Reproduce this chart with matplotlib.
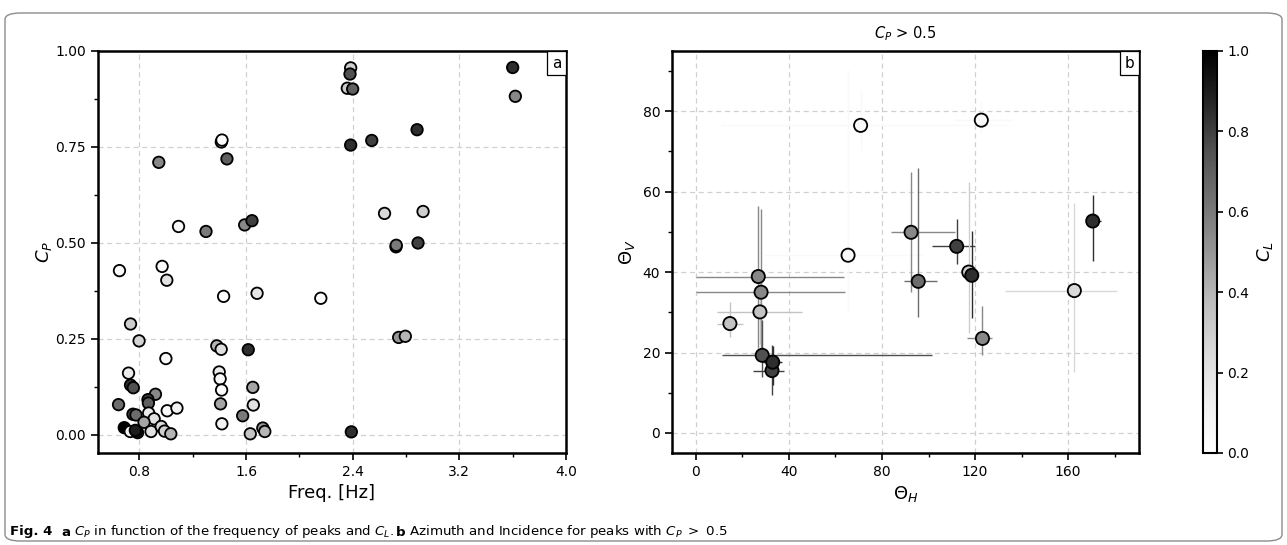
import matplotlib
matplotlib.use('Agg')
import matplotlib.pyplot as plt
import numpy as np
from matplotlib.ticker import MultipleLocator
from matplotlib.patches import FancyBboxPatch
from matplotlib.offsetbox import AnchoredText
from matplotlib.transforms import IdentityTransform

# --- panel a: peak frequency, C_P and C_L ---
freq = [0.651, 0.946, 1.094, 1.300, 1.415, 1.420, 1.457, 1.590, 1.645, 0.971,
        1.006, 1.432, 1.683, 0.734, 0.798, 0.999, 1.381, 1.414, 1.617, 0.719,
        0.734, 0.755, 0.644, 0.921, 0.865, 0.868, 0.752, 0.775, 0.870, 0.911,
        0.835, 1.009, 1.082, 0.687, 0.732, 0.787, 0.770, 0.888, 0.964, 0.989,
        1.036, 1.399, 1.406, 1.417, 1.409, 1.419, 1.651, 1.655, 1.575, 1.632,
        1.726, 1.741, 2.385, 2.380, 2.360, 2.400, 2.385, 2.543, 2.883, 3.600,
        3.620, 2.639, 2.928, 2.725, 2.727, 2.890, 2.161, 2.745, 2.795, 2.390]
cp = [0.428, 0.710, 0.543, 0.530, 0.763, 0.768, 0.719, 0.547, 0.558, 0.439,
      0.403, 0.361, 0.369, 0.289, 0.245, 0.199, 0.232, 0.223, 0.222, 0.161,
      0.130, 0.123, 0.079, 0.106, 0.092, 0.083, 0.054, 0.052, 0.057, 0.042,
      0.033, 0.063, 0.070, 0.019, 0.009, 0.006, 0.012, 0.009, 0.022, 0.010,
      0.003, 0.164, 0.146, 0.117, 0.081, 0.029, 0.124, 0.078, 0.050, 0.003,
      0.018, 0.009, 0.956, 0.940, 0.903, 0.901, 0.755, 0.767, 0.795, 0.957,
      0.882, 0.577, 0.582, 0.490, 0.494, 0.500, 0.356, 0.254, 0.257, 0.008]
cl = [0.05, 0.55, 0.05, 0.60, 0.15, 0.03, 0.70, 0.55, 0.80, 0.05,
      0.20, 0.02, 0.18, 0.30, 0.28, 0.05, 0.40, 0.22, 0.85, 0.15,
      0.85, 0.75, 0.65, 0.55, 0.80, 0.70, 0.80, 0.65, 0.15, 0.20,
      0.45, 0.05, 0.10, 1.00, 0.10, 0.95, 0.90, 0.20, 0.25, 0.30,
      0.40, 0.15, 0.05, 0.02, 0.45, 0.10, 0.45, 0.20, 0.60, 0.35,
      0.50, 0.40, 0.30, 0.75, 0.30, 0.70, 0.85, 0.80, 0.85, 0.85,
      0.55, 0.25, 0.30, 0.85, 0.60, 0.80, 0.03, 0.50, 0.40, 0.85]

# --- panel b: azimuth / incidence for peaks with C_P > 0.5 ---
theta_h = [14.6, 26.8, 28.0, 27.5, 28.5, 32.7, 33.0, 65.4, 70.8,
           122.7, 92.5, 95.6, 112.1, 117.3, 118.6, 123.2, 162.7, 170.6]
theta_v = [27.2, 38.9, 35.0, 30.1, 19.3, 15.5, 17.6, 44.2, 76.5,
           77.8, 49.9, 37.7, 46.4, 40.0, 39.2, 23.5, 35.4, 52.7]
cl_b = [0.35, 0.55, 0.55, 0.35, 0.75, 0.80, 0.85, 0.05, 0.05,
        0.05, 0.55, 0.65, 0.80, 0.30, 0.85, 0.55, 0.25, 0.85]
h_lo = [9.2, 0.0, 0.0, 9.2, 11.3, 24.7, 29.0, 28.3, 10.8,
        111.0, 83.9, 89.6, 101.5, 113.0, 116.0, 116.4, 132.9, 168.9]
h_hi = [20.3, 63.5, 64.0, 45.5, 101.4, 37.8, 37.0, 97.0, 133.6,
        135.8, 111.4, 103.5, 120.0, 120.0, 121.0, 127.2, 180.9, 174.0]
v_lo = [23.9, 21.0, 18.0, 22.0, 14.0, 9.4, 12.0, 30.1, 70.3,
        74.5, 35.1, 28.9, 41.9, 24.8, 28.7, 19.4, 15.2, 42.7]
v_hi = [32.6, 56.5, 55.8, 38.0, 28.0, 21.9, 21.5, 90.2, 85.4,
        82.3, 64.8, 65.9, 53.1, 62.3, 50.2, 31.6, 57.1, 59.3]

cmap = plt.get_cmap('Greys')
W, H = 1287, 545
fig = plt.figure(figsize=(W / 100, H / 100), dpi=100)


def px_rect(x0, y0, x1, y1):
    # pixel box (top-left origin) -> figure fraction [l, b, w, h]
    return [x0 / W, 1 - y1 / H, (x1 - x0) / W, (y1 - y0) / H]


ax1 = fig.add_axes(px_rect(98, 51, 566, 453))
ax2 = fig.add_axes(px_rect(672, 51, 1139, 453))
cax = fig.add_axes(px_rect(1203, 51, 1217, 453))

# --- Panel a ---
ax1.scatter(freq, cp, c=cl, cmap=cmap, vmin=0, vmax=1, s=68,
            edgecolors='black', linewidths=1.3, zorder=3)
ax1.set_xlim(0.49, 4.0)
ax1.set_ylim(-0.047, 1.0)
ax1.xaxis.set_major_locator(MultipleLocator(0.8))
ax1.xaxis.set_minor_locator(MultipleLocator(0.4))
ax1.yaxis.set_major_locator(MultipleLocator(0.25))
ax1.yaxis.set_minor_locator(MultipleLocator(0.125))
ax1.set_xticks([0.8, 1.6, 2.4, 3.2, 4.0])
ax1.set_xticklabels(['0.8', '1.6', '2.4', '3.2', '4.0'])
ax1.set_yticks([0, 0.25, 0.5, 0.75, 1.0])
ax1.set_yticklabels(['0.00', '0.25', '0.50', '0.75', '1.00'])
ax1.set_xlabel('Freq. [Hz]', fontsize=13)
ax1.set_ylabel('$C_P$', fontsize=13, labelpad=1)

# --- Panel b ---
for i in range(len(theta_h)):
    col = cmap(cl_b[i])
    xe = [[theta_h[i] - h_lo[i]], [h_hi[i] - theta_h[i]]]
    ye = [[theta_v[i] - v_lo[i]], [v_hi[i] - theta_v[i]]]
    ax2.errorbar(theta_h[i], theta_v[i], xerr=xe, yerr=ye, fmt='none',
                 ecolor=col, elinewidth=1.0, zorder=2)
ax2.scatter(theta_h, theta_v, c=cl_b, cmap=cmap, vmin=0, vmax=1, s=90,
            edgecolors='black', linewidths=1.3, zorder=3)
ax2.set_xlim(-10.3, 190.5)
ax2.set_ylim(-5, 95)
ax2.xaxis.set_major_locator(MultipleLocator(40))
ax2.xaxis.set_minor_locator(MultipleLocator(20))
ax2.yaxis.set_major_locator(MultipleLocator(20))
ax2.yaxis.set_minor_locator(MultipleLocator(10))
ax2.set_xticks([0, 40, 80, 120, 160])
ax2.set_yticks([0, 20, 40, 60, 80])
ax2.set_xlabel(r'$\Theta_H$', fontsize=13)
ax2.set_ylabel(r'$\Theta_V$', fontsize=13)
ax2.set_title('$C_P$ > 0.5', fontsize=10.5, pad=9)

# --- Common features ---
for ax, tag in [(ax1, 'a'), (ax2, 'b')]:
    ax.grid(True, which='major', linestyle=(0, (4, 3)), color='#d0d0d0',
            linewidth=0.9, zorder=0)
    ax.set_axisbelow(True)
    for sp in ax.spines.values():
        sp.set_linewidth(1.8)
    ax.tick_params(which='major', length=5, width=1.2, labelsize=10)
    ax.tick_params(which='minor', length=3, width=1.0)
    at = AnchoredText(tag, loc='upper right', pad=0.3, borderpad=0.0,
                      prop=dict(size=11), frameon=True)
    at.patch.set_edgecolor('black')
    at.patch.set_linewidth(0.9)
    ax.add_artist(at)

# --- Colorbar ---
sm = plt.cm.ScalarMappable(cmap=cmap, norm=plt.Normalize(0, 1))
cb = fig.colorbar(sm, cax=cax, ticks=[0, 0.2, 0.4, 0.6, 0.8, 1.0])
cb.outline.set_linewidth(1.5)
cb.ax.tick_params(length=4, width=1.2, labelsize=10)
cb.set_label('$C_L$', fontsize=13, labelpad=4)

# --- Frame and caption ---
frame = FancyBboxPatch((5 / W, 4 / H), (W - 10) / W, (H - 17) / H,
                       boxstyle='round,pad=0,rounding_size=0.012',
                       transform=fig.transFigure, fill=False,
                       edgecolor='#8c8c8c', linewidth=1.0)
fig.add_artist(frame)

renderer = fig.canvas.get_renderer()
parts = [('Fig. 4', 'bold'), ('  ', 'normal'), ('a', 'bold'),
         (' $C_P$ in function of the frequency of peaks and $C_L$. ', 'normal'),
         ('b', 'bold'),
         (' Azimuth and Incidence for peaks with $C_P$ $>$ 0.5', 'normal')]
xpos = 10
for txt, wt in parts:
    t = fig.text(xpos, H - 532, txt, transform=IdentityTransform(),
                 fontsize=9.6, fontweight=wt, family='DejaVu Sans',
                 va='center', ha='left')
    xpos += t.get_window_extent(renderer).width

fig.savefig('out.png', dpi=100)
